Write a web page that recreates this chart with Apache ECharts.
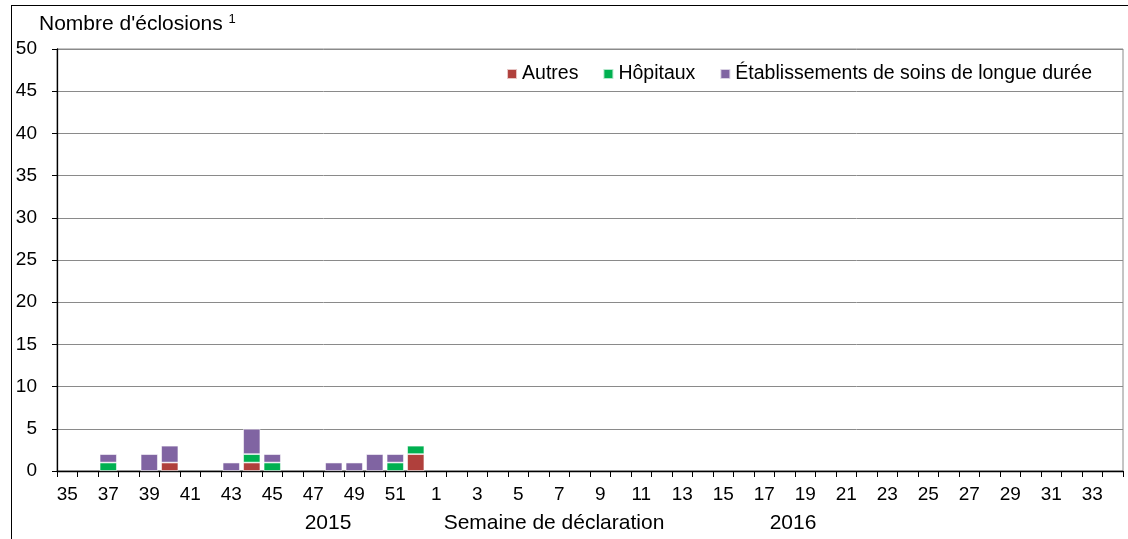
<!DOCTYPE html>
<html><head><meta charset="utf-8">
<script src="https://cdn.jsdelivr.net/npm/echarts@6/dist/echarts.min.js"></script>
<style>
html,body{margin:0;padding:0;background:#fff;}
#c{width:1128px;height:539px;position:absolute;left:0;top:0;}
#frame{position:absolute;left:11px;top:5px;width:1130px;height:560px;border-left:1px solid #000;border-top:1px solid #000;}
</style></head>
<body>
<div id="frame"></div>
<div id="c"></div>
<script>
const weeks = ['35','36','37','38','39','40','41','42','43','44','45','46','47','48','49','50','51','52',
  '1','2','3','4','5','6','7','8','9','10','11','12','13','14','15','16','17','18','19','20','21','22','23','24','25','26','27','28','29','30','31','32','33','34'];
const autres =   [0,0,0,0,0,1,0,0,0,1,0,0,0,0,0,0,0,2, 0,0,0,0,0,0,0,0,0,0,0,0,0,0,0,0,0,0,0,0,0,0,0,0,0,0,0,0,0,0,0,0,0,0];
const hopitaux = [0,0,1,0,0,0,0,0,0,1,1,0,0,0,0,0,1,1, 0,0,0,0,0,0,0,0,0,0,0,0,0,0,0,0,0,0,0,0,0,0,0,0,0,0,0,0,0,0,0,0,0,0];
const sld =      [0,0,1,0,2,2,0,0,1,3,1,0,0,1,1,2,1,0, 0,0,0,0,0,0,0,0,0,0,0,0,0,0,0,0,0,0,0,0,0,0,0,0,0,0,0,0,0,0,0,0,0,0];
const yTicks = [0,5,10,15,20,25,30,35,40,45,50];
const seriesNames = ['Autres','Hôpitaux','Établissements de soins de longue durée'];
const yearLabels = ['2015','2016'];
const xTitle = 'Semaine de déclaration';

const chart = echarts.init(document.getElementById('c'));
const font = 'Liberation Sans, Arial, sans-serif';
const bar = (name, data, color) => ({
  name, type:'bar', stack:'t', data:data.map(v=>v===0?null:v), barCategoryGap:'16%',
  itemStyle:{color, borderColor:'rgba(255,255,255,0.7)', borderWidth:0.8}
});
chart.setOption({
  animation:false,
  textStyle:{fontFamily:font},
  grid:{left:57,right:5,top:49,bottom:68,show:true,borderColor:'#8a8a8a',borderWidth:1},
  legend:{
    top:59,right:31,itemWidth:10,itemHeight:10,itemGap:24,
    icon:'rect',
    textStyle:{fontSize:19.5,color:'#000',fontFamily:font},
    data:seriesNames
  },
  xAxis:{
    type:'category',data:weeks,
    axisLine:{lineStyle:{color:'#000',width:1.3}},
    axisTick:{show:true,interval:0,length:6,lineStyle:{color:'#000'}},
    axisLabel:{interval:1,color:'#000',fontSize:19,margin:14,fontFamily:font},
    splitLine:{show:false}
  },
  yAxis:{
    type:'value',min:0,max:50,interval:5,
    name:'Nombre d\'éclosions {s|1}',
    nameLocation:'end',nameGap:13,
    nameTextStyle:{fontSize:21,color:'#000',align:'left',padding:[0,0,0,-18],
      rich:{s:{fontSize:13,verticalAlign:'top',padding:[0,0,10,0]}}},
    axisLine:{show:true,lineStyle:{color:'#000',width:1.3}},
    axisTick:{show:true,length:5,lineStyle:{color:'#000'}},
    axisLabel:{color:'#000',fontSize:19,margin:20,fontFamily:font,
      formatter:v=>yTicks.includes(v)?String(v):''},
    splitLine:{lineStyle:{color:'#8a8a8a',width:1}}
  },
  graphic:[
    {type:'text',x:328,y:523,style:{text:yearLabels[0],fontSize:21,fill:'#000',fontFamily:font,textAlign:'center',textVerticalAlign:'middle'}},
    {type:'text',x:554,y:523,style:{text:xTitle,fontSize:21,fill:'#000',fontFamily:font,textAlign:'center',textVerticalAlign:'middle'}},
    {type:'text',x:793,y:523,style:{text:yearLabels[1],fontSize:21,fill:'#000',fontFamily:font,textAlign:'center',textVerticalAlign:'middle'}}
  ],
  series:[
    bar(seriesNames[0],autres,'#b0403c'),
    bar(seriesNames[1],hopitaux,'#00b050'),
    bar(seriesNames[2],sld,'#8064a2')
  ]
});
</script>
</body></html>
